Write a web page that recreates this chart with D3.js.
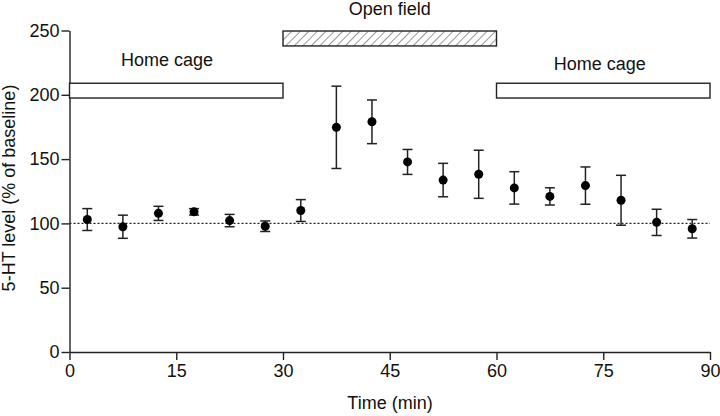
<!DOCTYPE html>
<html>
<head>
<meta charset="utf-8">
<script src="https://cdn.jsdelivr.net/npm/d3@7"></script>
<style>
  body { margin: 0; background: #fff; }
  svg { font-family: "Liberation Sans", Arial, sans-serif; }
</style>
</head>
<body>
<svg id="chart" width="720" height="416"></svg>
<script>
// Data
const times = [2.5, 7.5, 12.5, 17.5, 22.5, 27.5, 32.5, 37.5, 42.5, 47.5, 52.5, 57.5, 62.5, 67.5, 72.5, 77.5, 82.5, 87.5];
const means = [103, 97.4, 107.8, 109, 102.2, 97.8, 110, 174.7, 179, 147.8, 133.7, 138.2, 127.6, 121, 129.4, 118, 100.8, 95.8];
const errs  = [8.5, 9, 5.5, 2.5, 4.8, 4.1, 8.5, 32, 17, 9.7, 13, 18.7, 12.6, 6.7, 14.5, 19.4, 10.2, 7.2];
const xTicks = [0, 15, 30, 45, 60, 75, 90];
const yTicks = [0, 50, 100, 150, 200, 250];
const phases = [
  { label: "Home cage", start: 0, end: 30, lo: 197.5, hi: 209, hatched: false, labelX: 13.7, labelY: 227 },
  { label: "Open field", start: 30, end: 60, lo: 238, hi: 249.6, hatched: true, labelX: 45, labelY: 267 },
  { label: "Home cage", start: 60, end: 90, lo: 197.5, hi: 209, hatched: false, labelX: 74.5, labelY: 224 }
];
const baseline = 100;
const fs = 18;

const svg = d3.select("#chart");
const x = d3.scaleLinear().domain([0, 90]).range([69.5, 710]);
const y = d3.scaleLinear().domain([0, 250]).range([352, 30.5]);

// hatch pattern
const defs = svg.append("defs");
defs.append("pattern")
  .attr("id", "hatch")
  .attr("patternUnits", "userSpaceOnUse")
  .attr("width", 6).attr("height", 6)
  .attr("patternTransform", "rotate(45)")
  .append("line")
  .attr("x1", 0).attr("y1", 0).attr("x2", 0).attr("y2", 6)
  .attr("stroke", "#333").attr("stroke-width", 1);

// axes
const xAxis = svg.append("g")
  .attr("transform", `translate(0,${y(0)})`)
  .call(d3.axisBottom(x).tickValues(xTicks).tickSize(8).tickPadding(4).tickSizeOuter(0));
const yAxis = svg.append("g")
  .attr("transform", `translate(${x(0)},0)`)
  .call(d3.axisLeft(y).tickValues(yTicks).tickSize(8).tickPadding(2).tickSizeOuter(0));

[xAxis, yAxis].forEach(a => {
  a.selectAll("path, line").attr("stroke", "#222").attr("stroke-width", 1.4);
  a.selectAll("text").attr("font-size", fs).attr("fill", "#111")
    .attr("font-family", "'Liberation Sans', Arial, sans-serif");
});

// baseline dotted line
svg.append("line")
  .attr("x1", x(0)).attr("x2", x(90))
  .attr("y1", y(baseline)).attr("y2", y(baseline))
  .attr("stroke", "#222").attr("stroke-width", 1.3)
  .attr("stroke-dasharray", "2,2");

// phase bars
svg.selectAll("rect.phase")
  .data(phases)
  .enter()
  .append("rect")
  .attr("class", "phase")
  .attr("x", d => x(d.start))
  .attr("y", d => y(d.hi))
  .attr("width", d => x(d.end) - x(d.start))
  .attr("height", d => y(d.lo) - y(d.hi))
  .attr("fill", d => d.hatched ? "url(#hatch)" : "#fff")
  .attr("stroke", "#222")
  .attr("stroke-width", 1.4);

svg.selectAll("text.phase-label")
  .data(phases)
  .enter()
  .append("text")
  .attr("class", "phase-label")
  .attr("x", d => x(d.labelX))
  .attr("y", d => y(d.labelY))
  .attr("text-anchor", "middle")
  .attr("dy", "0.35em")
  .attr("font-size", fs)
  .attr("fill", "#111")
  .text(d => d.label);

// error bars
const pts = times.map((t, i) => ({ t, m: means[i], e: errs[i] }));
const cap = 5;
const eb = svg.append("g").attr("stroke", "#222").attr("stroke-width", 1.5);
eb.selectAll("line.v").data(pts).enter().append("line")
  .attr("x1", d => x(d.t)).attr("x2", d => x(d.t))
  .attr("y1", d => y(d.m + d.e)).attr("y2", d => y(d.m - d.e));
eb.selectAll("line.top").data(pts).enter().append("line")
  .attr("x1", d => x(d.t) - cap).attr("x2", d => x(d.t) + cap)
  .attr("y1", d => y(d.m + d.e)).attr("y2", d => y(d.m + d.e));
eb.selectAll("line.bot").data(pts).enter().append("line")
  .attr("x1", d => x(d.t) - cap).attr("x2", d => x(d.t) + cap)
  .attr("y1", d => y(d.m - d.e)).attr("y2", d => y(d.m - d.e));

svg.selectAll("circle.pt").data(pts).enter().append("circle")
  .attr("class", "pt")
  .attr("cx", d => x(d.t)).attr("cy", d => y(d.m))
  .attr("r", 4.5)
  .attr("fill", "#000");

// axis titles
svg.append("text")
  .attr("x", 390).attr("y", 409)
  .attr("text-anchor", "middle")
  .attr("font-size", fs).attr("fill", "#111")
  .text("Time (min)");

svg.append("text")
  .attr("transform", "translate(15,188) rotate(-90)")
  .attr("text-anchor", "middle")
  .attr("font-size", fs).attr("fill", "#111")
  .text("5-HT level (% of baseline)");
</script>
</body>
</html>
